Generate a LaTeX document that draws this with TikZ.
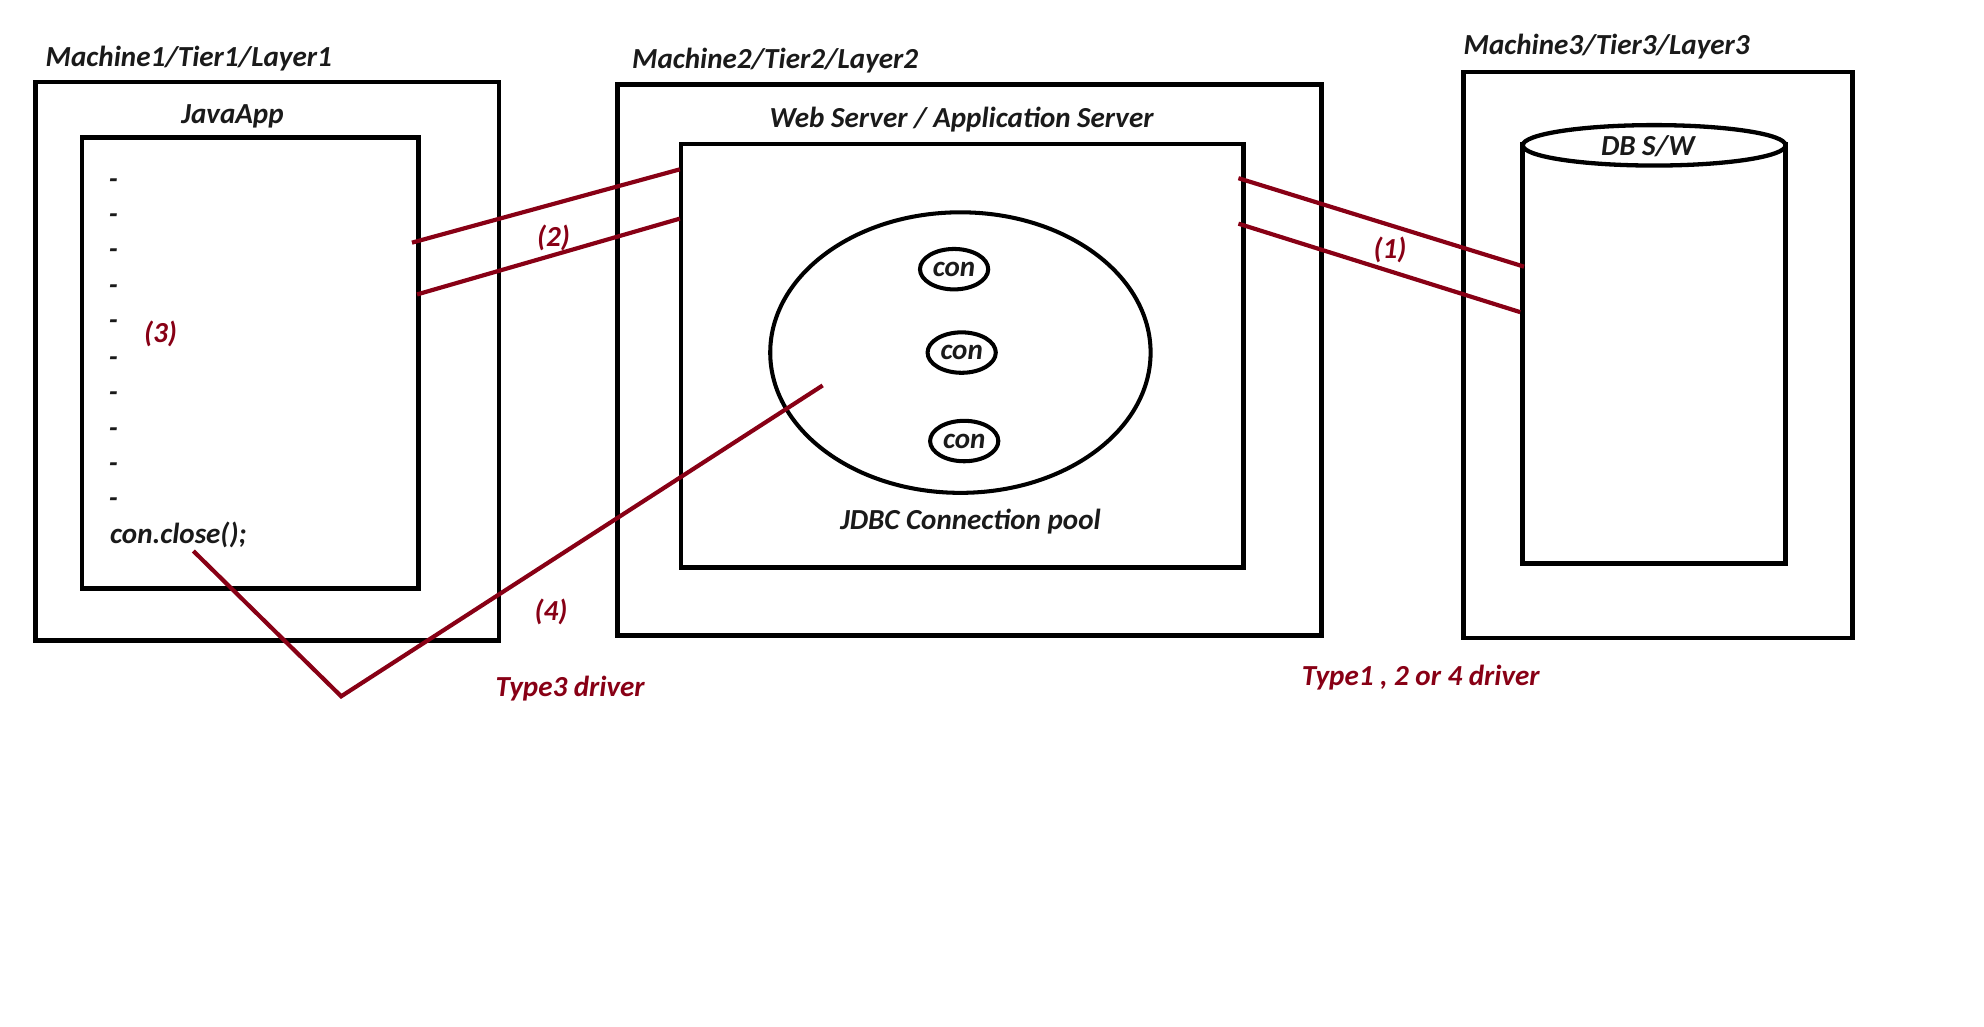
\documentclass[tikz,border=0pt]{standalone}
\usepackage{fontspec}
\setmainfont{Carlito}
\usetikzlibrary{shapes.geometric}
\definecolor{dred}{HTML}{880015}
\definecolor{ink}{HTML}{1A1A1A}
\begin{document}
\begin{tikzpicture}[x=1pt,y=-1pt,
  lbl/.style={font=\fontsize{23}{27}\selectfont\bfseries\itshape, text=ink, inner sep=0pt},
  rlbl/.style={font=\fontsize{23}{27}\selectfont\bfseries\itshape, text=dred, inner sep=0pt},
  box/.style={draw=black, line width=3.8pt, inner sep=0pt, anchor=north west},
  conn/.style={draw=dred, line width=3.3pt},
  ball/.style={ellipse, draw=black, line width=3.2pt, inner sep=0pt}]
\useasboundingbox (0,0) rectangle (1570,812);
% Machine 1
\node[box, minimum width=367pt, minimum height=442pt] (m1) at (26,63) {};
\node[lbl, anchor=west] (m1l) at (36,46) {Machine1/Tier1/Layer1};
\node[box, minimum width=266pt, minimum height=357pt] (ja) at (63,107) {};
\node[lbl] (jal) at (184,92) {JavaApp};
\foreach \yy [count=\i] in {141,169,197,225,253,282,310,338,366,394}
  \node[lbl, anchor=west] (d\i) at (86,\yy+4) {-};
\node[lbl, anchor=west] (cc) at (87,423) {con.close();};
\node[rlbl] (n3) at (127,264) {(3)};
% Machine 2
\node[box, minimum width=557pt, minimum height=436pt] (m2) at (487,65) {};
\node[lbl, anchor=west] (m2l) at (500,48) {Machine2/Tier2/Layer2};
\node[box, minimum width=445pt, minimum height=335pt] (ws) at (537,112) {};
\node[lbl] (wsl) at (761,95) {Web Server / Application Server};
\node[ball, minimum width=301pt, minimum height=222pt] (pool) at (760,279) {};
\node[ball, minimum width=54pt, minimum height=32pt, font=\fontsize{23}{27}\selectfont\bfseries\itshape, text=ink] (con1) at (755,213) {con};
\node[ball, minimum width=54pt, minimum height=32pt, font=\fontsize{23}{27}\selectfont\bfseries\itshape, text=ink] (con2) at (761,279) {con};
\node[ball, minimum width=54pt, minimum height=32pt, font=\fontsize{23}{27}\selectfont\bfseries\itshape, text=ink] (con3) at (763,349) {con};
\node[lbl] (jdbc) at (768,413) {JDBC Connection pool};
% Machine 3
\node[box, minimum width=308pt, minimum height=448pt] (m3) at (1156,55) {};
\node[lbl, anchor=west] (m3l) at (1158,37) {Machine3/Tier3/Layer3};
\draw[line width=3.8pt] (1205,112) -- (1205,446) -- (1413,446) -- (1413,112);
\draw[line width=3.4pt] (1309,115) ellipse [x radius=104pt, y radius=16pt];
\node[lbl] (db) at (1304,116) {DB S/W};
% connectors
\coordinate (a1) at (326,192); \coordinate (a2) at (538,134);
\coordinate (b1) at (330,233); \coordinate (b2) at (538,173);
\draw[conn] (a1) -- (a2);
\draw[conn] (b1) -- (b2);
\node[rlbl] (n2) at (438,188) {(2)};
\coordinate (e1) at (980,141); \coordinate (e2) at (1206,211);
\coordinate (f1) at (980,177); \coordinate (f2) at (1203,247);
\draw[conn] (e1) -- (e2);
\draw[conn] (f1) -- (f2);
\node[rlbl] (n1) at (1100,198) {(1)};
\coordinate (g1) at (153,436); \coordinate (g2) at (270,551); \coordinate (g3) at (651,305);
\draw[conn] (g1) -- (g2) -- (g3);
\node[rlbl] (n4) at (436,484) {(4)};
\node[rlbl, anchor=west] (t3) at (392,545) {Type3 driver};
\node[rlbl, anchor=west] (t124) at (1030,536) {Type1 , 2 or 4 driver};
\end{tikzpicture}
\end{document}
